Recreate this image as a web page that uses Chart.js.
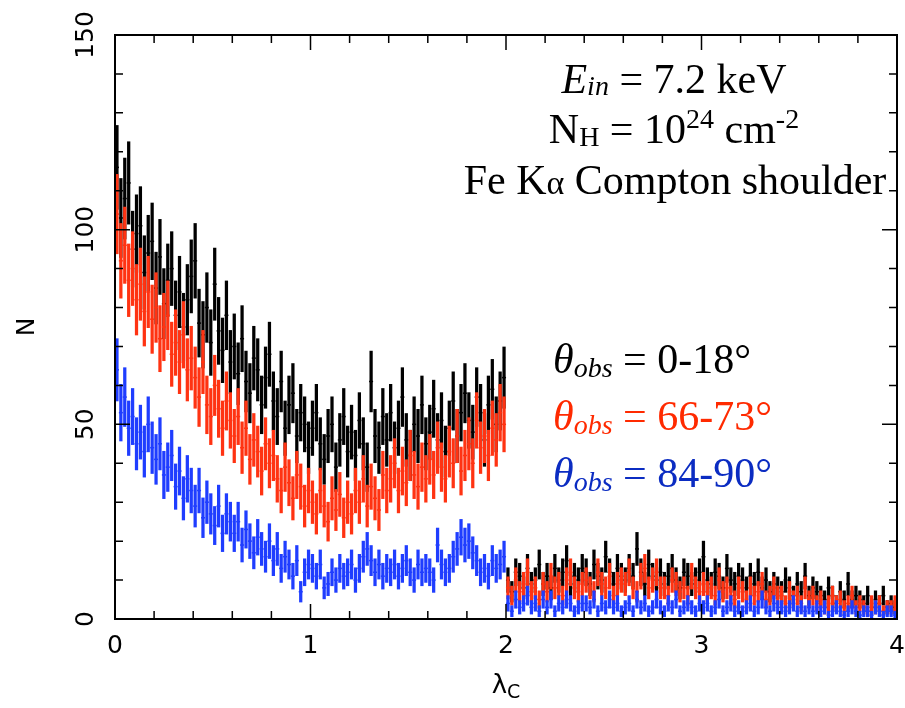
<!DOCTYPE html>
<html lang="en">
<head>
<meta charset="UTF-8">
<title>Fe K&alpha; Compton shoulder</title>
<script src="https://cdn.jsdelivr.net/npm/chart.js@4.4.2/dist/chart.umd.min.js"></script>
<style>
  body { margin: 0; background: #fff; }
  #wrap { width: 905px; height: 708px; }
</style>
</head>
<body>
<div id="wrap"><canvas id="chart" width="905" height="708"></canvas></div>
<script>
// histogram bins in lambda_C (width 0.02, 0 -> 4)
const binWidth = 0.02;
const binCenters = Array.from({ length: 200 }, (_, i) => +(binWidth * (i + 0.5)).toFixed(2));

// counts per bin (one row = 0.2 in lambda_C)
const counts0to18 = [
  116, 103, 108, 112, 95, 99, 101, 89, 94, 97,
  85, 93, 81, 87, 90, 78, 84, 75, 82, 88,
  92, 76, 73, 80, 71, 86, 74, 69, 78, 66,
  70, 63, 72, 61, 58, 67, 64, 55, 62, 68,
  56, 52, 61, 49, 55, 58, 47, 53, 50, 44,
  49, 53, 45, 41, 47, 50, 39, 46, 52, 43,
  48, 42, 51, 45, 39, 61, 47, 44, 52, 46,
  53, 44, 49, 57, 46, 42, 50, 47, 55, 45,
  48, 54, 46, 51, 43, 49, 56, 47, 53, 58,
  51, 48, 57, 53, 46, 55, 59, 50, 56, 62,
  10, 7, 12, 11, 8, 13, 9, 10, 14, 9,
  11, 8, 13, 10, 12, 15, 9, 11, 10, 13,
  12, 9, 14, 11, 10, 16, 12, 9, 13, 11,
  10, 13, 11, 18, 12, 9, 14, 11, 10, 12,
  9, 11, 13, 10, 8, 12, 11, 9, 10, 12,
  16, 10, 9, 12, 11, 8, 13, 10, 9, 11,
  10, 8, 11, 9, 12, 8, 10, 7, 9, 8,
  7, 10, 8, 6, 9, 7, 11, 6, 8, 7,
  6, 5, 8, 6, 4, 7, 5, 9, 5, 6,
  5, 4, 6, 3, 5, 4, 6, 3, 4, 3
];
const counts66to73 = [
  104, 92, 96, 87, 90, 82, 86, 79, 84, 77,
  80, 72, 75, 78, 68, 71, 66, 73, 64, 67,
  62, 57, 66, 55, 52, 60, 54, 49, 56, 51,
  47, 52, 44, 49, 41, 46, 43, 38, 45, 40,
  42, 36, 33, 39, 35, 31, 37, 34, 29, 33,
  30, 27, 33, 29, 25, 31, 28, 32, 26, 30,
  27, 33, 30, 36, 29, 34, 31, 28, 37, 33,
  36, 40, 33, 38, 35, 42, 37, 34, 39, 36,
  41, 37, 44, 39, 36, 43, 40, 47, 38, 42,
  45, 40, 51, 44, 47, 42, 49, 46, 53, 50,
  8, 6, 10, 7, 9, 12, 7, 8, 5, 9,
  7, 11, 8, 9, 6, 10, 12, 8, 7, 9,
  10, 8, 7, 12, 9, 8, 11, 6, 9, 10,
  9, 12, 8, 7, 11, 13, 8, 10, 12, 8,
  8, 6, 10, 9, 7, 8, 6, 11, 8, 7,
  9, 7, 8, 6, 10, 7, 8, 6, 5, 8,
  7, 5, 8, 6, 7, 9, 5, 6, 8, 6,
  6, 4, 7, 5, 6, 4, 8, 5, 6, 4,
  5, 3, 4, 6, 4, 5, 3, 4, 6, 3,
  4, 3, 2, 4, 3, 4, 2, 3, 3, 4
];
const counts84to90 = [
  64, 53, 57, 49, 52, 45, 48, 43, 50, 44,
  41, 45, 37, 39, 42, 34, 38, 31, 36, 33,
  29, 33, 26, 30, 27, 24, 29, 22, 27, 25,
  22, 25, 19, 23, 20, 17, 21, 18, 16, 20,
  15, 18, 13, 16, 14, 11, 15, 7, 12, 14,
  13, 11, 14, 8, 9, 12, 10, 13, 11, 12,
  14, 10, 13, 16, 18, 15, 12, 14, 11, 13,
  12, 14, 11, 13, 15, 12, 10, 14, 12, 13,
  12, 10, 19, 14, 12, 13, 16, 18, 21, 19,
  20, 17, 15, 12, 13, 11, 15, 13, 14, 16,
  4, 2, 5, 3, 4, 6, 3, 4, 2, 5,
  3, 5, 2, 4, 3, 5, 4, 2, 3, 4,
  4, 3, 5, 2, 4, 3, 5, 3, 4, 2,
  3, 4, 2, 5, 3, 4, 2, 3, 5, 3,
  2, 4, 3, 5, 2, 3, 4, 3, 2, 4,
  3, 4, 2, 3, 5, 2, 3, 4, 2, 3,
  2, 3, 4, 2, 3, 5, 3, 2, 4, 3,
  3, 2, 3, 4, 2, 3, 2, 3, 2, 3,
  2, 3, 1, 2, 3, 2, 1, 2, 3, 2,
  1, 2, 2, 1, 3, 2, 1, 2, 2, 1
];

const xTicks = [0, 1, 2, 3, 4];
const yTicks = [0, 50, 100, 150];
const xMinorStep = 0.2;
const yMinorStep = 10;

const series = [
  { name: '0-18°', counts: counts0to18, color: '#000000', text: '#000000', order: 2 },
  { name: '66-73°', counts: counts66to73, color: '#ff3312', text: '#ff2a00', order: 1 },
  { name: '84-90°', counts: counts84to90, color: '#1f3dff', text: '#0b2cc2', order: 0 }
];

const datasets = [];
series.forEach(s => {
  // Poisson error bars as floating bars
  datasets.push({
    type: 'bar',
    data: binCenters.map((x, i) => {
      const n = s.counts[i], e = Math.sqrt(n);
      return { x: x, y: [Math.max(0, n - e), n + e] };
    }),
    backgroundColor: s.color,
    borderWidth: 0,
    barThickness: 2.6,
    grouped: false,
    order: s.order
  });
  // bin-width horizontal marks
  datasets.push({
    type: 'scatter',
    data: binCenters.map((x, i) => ({ x: x, y: s.counts[i] })),
    pointStyle: 'line',
    pointRadius: 2,
    borderColor: s.color,
    borderWidth: 1.5,
    showLine: false,
    order: s.order
  });
});

const serif = (size, italic) => (italic ? 'italic ' : '') + size + 'px "Liberation Serif", "Times New Roman", serif';
const sans = size => size + 'px "DejaVu Sans", "Liberation Sans", sans-serif';

function drawRuns(ctx, runs, x, y, align, color) {
  let total = 0;
  runs.forEach(r => { ctx.font = r.font; total += ctx.measureText(r.t).width; });
  let cx = align === 'center' ? x - total / 2 : x;
  ctx.fillStyle = color;
  ctx.textAlign = 'left';
  ctx.textBaseline = 'alphabetic';
  runs.forEach(r => {
    ctx.font = r.font;
    ctx.fillText(r.t, cx, y + (r.dy || 0));
    cx += ctx.measureText(r.t).width;
  });
}

const framePlugin = {
  id: 'frame',
  afterDatasetsDraw(chart) {
    const { ctx, chartArea: a, scales: { x, y } } = chart;
    ctx.save();
    ctx.strokeStyle = '#000';
    ctx.lineWidth = 2;
    ctx.strokeRect(a.left, a.top, a.right - a.left, a.bottom - a.top);

    ctx.lineWidth = 1.5;
    ctx.beginPath();
    for (let i = 0; i <= 20; i++) {
      const px = x.getPixelForValue(i * xMinorStep);
      const len = xTicks.includes(+(i * xMinorStep).toFixed(2)) ? 15 : 8;
      ctx.moveTo(px, a.bottom); ctx.lineTo(px, a.bottom - len);
      ctx.moveTo(px, a.top); ctx.lineTo(px, a.top + len);
    }
    for (let i = 0; i <= 15; i++) {
      const py = y.getPixelForValue(i * yMinorStep);
      const len = yTicks.includes(i * yMinorStep) ? 15 : 8;
      ctx.moveTo(a.left, py); ctx.lineTo(a.left + len, py);
      ctx.moveTo(a.right, py); ctx.lineTo(a.right - len, py);
    }
    ctx.stroke();

    // tick labels
    ctx.fillStyle = '#000';
    ctx.font = sans(25);
    ctx.textAlign = 'center';
    ctx.textBaseline = 'middle';
    xTicks.forEach(v => ctx.fillText(String(v), x.getPixelForValue(v), a.bottom + 27));
    yTicks.forEach(v => {
      ctx.save();
      ctx.translate(a.left - 29, y.getPixelForValue(v));
      ctx.rotate(-Math.PI / 2);
      ctx.fillText(String(v), 0, 0);
      ctx.restore();
    });

    // axis titles
    ctx.save();
    ctx.translate(27, (a.top + a.bottom) / 2);
    ctx.rotate(-Math.PI / 2);
    ctx.font = sans(25);
    ctx.fillText('N', 0, 0);
    ctx.restore();
    drawRuns(ctx, [
      { t: 'λ', font: sans(26) },
      { t: 'C', font: sans(19), dy: 5 }
    ], (a.left + a.right) / 2, a.bottom + 74, 'center', '#000');

    // annotations
    drawRuns(ctx, [
      { t: 'E', font: serif(42, true) },
      { t: 'in', font: serif(28, true), dy: 2 },
      { t: ' = 7.2 keV', font: serif(42) }
    ], 674, 93, 'center', '#000');
    drawRuns(ctx, [
      { t: 'N', font: serif(42) },
      { t: 'H', font: serif(28), dy: 3 },
      { t: ' = 10', font: serif(42) },
      { t: '24', font: serif(28), dy: -15 },
      { t: ' cm', font: serif(42) },
      { t: '-2', font: serif(28), dy: -15 }
    ], 674, 143, 'center', '#000');
    drawRuns(ctx, [
      { t: 'Fe K', font: serif(42) },
      { t: 'α', font: serif(34) },
      { t: ' Compton shoulder', font: serif(42) }
    ], 675, 194, 'center', '#000');

    const baselines = [373, 430, 487];
    series.forEach((s, i) => {
      drawRuns(ctx, [
        { t: 'θ', font: serif(42, true) },
        { t: 'obs', font: serif(28, true), dy: 4 },
        { t: ' = ' + s.name, font: serif(42) }
      ], 553, baselines[i], 'left', s.text);
    });
    ctx.restore();
  }
};

new Chart(document.getElementById('chart'), {
  type: 'bar',
  data: { datasets: datasets },
  options: {
    responsive: false,
    devicePixelRatio: 1,
    animation: false,
    events: [],
    layout: { padding: { left: 115, top: 35, right: 8, bottom: 89 } },
    plugins: { legend: { display: false }, tooltip: { enabled: false } },
    scales: {
      x: { type: 'linear', min: 0, max: 4, offset: false, display: false },
      y: { type: 'linear', min: 0, max: 150, display: false }
    }
  },
  plugins: [framePlugin]
});
</script>
</body>
</html>
